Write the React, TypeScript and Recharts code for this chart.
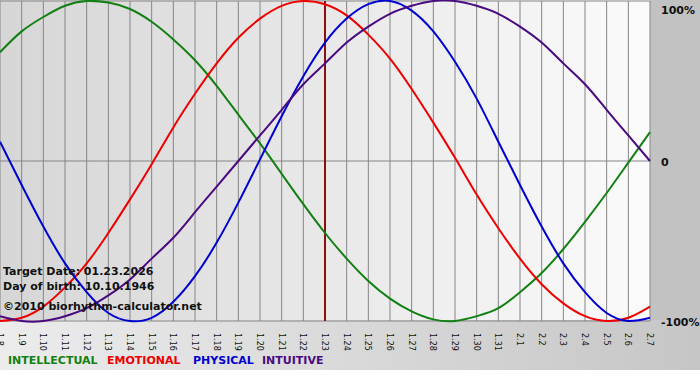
import React from "react";
import {
  LineChart,
  Line,
  XAxis,
  YAxis,
  CartesianGrid,
  ReferenceLine,
} from "recharts";

const dayLabels = [
  "1.8", "1.9", "1.10", "1.11", "1.12", "1.13", "1.14", "1.15", "1.16", "1.17",
  "1.18", "1.19", "1.20", "1.21", "1.22", "1.23", "1.24", "1.25", "1.26", "1.27",
  "1.28", "1.29", "1.30", "1.31", "2.1", "2.2", "2.3", "2.4", "2.5", "2.6", "2.7",
];

const intellectual = [
  68, 81, 90, 97, 100, 99, 95, 87, 76, 63, 47, 29, 11, -8, -27, -45, -61, -75,
  -86, -94, -99, -100, -97, -92, -82, -70, -55, -38, -20, -1, 18,
];
const emotional = [
  -100, -98, -91, -79, -64, -45, -24, -2, 21, 42, 61, 77, 89, 97, 100, 98, 91,
  79, 64, 45, 24, 2, -21, -42, -61, -77, -89, -97, -100, -98, -91,
];
const physical = [
  12, -15, -41, -64, -82, -95, -100, -98, -88, -72, -51, -26, 1, 28, 53, 74, 89,
  98, 100, 94, 81, 62, 39, 12, -15, -41, -64, -82, -95, -100, -98,
];
const intuitive = [
  -97, -100, -100, -97, -92, -84, -74, -61, -48, -32, -16, 0, 16, 32, 48, 61,
  74, 84, 92, 97, 100, 100, 97, 92, 84, 74, 61, 48, 32, 16, 0,
];

const targetDay = 15;
const yTicks = [-100, 0, 100];
const yLabels: Record<number, string> = { 100: "100%", 0: "0", "-100": "-100%" };

const series = [
  { key: "intellectual", name: "INTELLECTUAL", color: "#128012", left: 8 },
  { key: "emotional", name: "EMOTIONAL", color: "#ee0000", left: 107 },
  { key: "physical", name: "PHYSICAL", color: "#0000d0", left: 193 },
  { key: "intuitive", name: "INTUITIVE", color: "#4a0a80", left: 262 },
];

const data = dayLabels.map((label, i) => ({
  d: i,
  label,
  intellectual: intellectual[i],
  emotional: emotional[i],
  physical: physical[i],
  intuitive: intuitive[i],
}));

const DayTick = (props: any) => {
  const { x, y, payload } = props;
  const bx = x - 3;
  const by = y + 4;
  return (
    <text
      x={bx}
      y={by}
      transform={`rotate(90, ${bx}, ${by})`}
      fontFamily="DejaVu Sans"
      fontSize={8}
      fill="#111"
      textAnchor="start"
    >
      {dayLabels[payload.value]}
    </text>
  );
};

const PercentTick = (props: any) => {
  const { x, y, payload } = props;
  return (
    <text
      x={x + 3}
      y={y + 5}
      fontFamily="DejaVu Sans"
      fontWeight="bold"
      fontSize={11}
      fill="#111"
      textAnchor="start"
    >
      {yLabels[payload.value]}
    </text>
  );
};

const infoStyle: React.CSSProperties = {
  position: "absolute",
  left: 3,
  fontFamily: "DejaVu Sans",
  fontWeight: "bold",
  fontSize: 11,
  color: "#111",
  whiteSpace: "nowrap",
  lineHeight: "13px",
};

const App = () => {
  return (
    <div
      style={{
        position: "absolute",
        left: 0,
        top: 0,
        width: 700,
        height: 380,
        background: "#fff",
        overflow: "hidden",
      }}
    >
      <div
        style={{
          position: "absolute",
          left: 0,
          top: 0,
          width: 650,
          height: 320,
          background: "linear-gradient(to right, #d6d6d6, #fbfbfb)",
        }}
      />
      <div
        style={{
          position: "absolute",
          left: 650,
          top: 0,
          width: 50,
          height: 320,
          background: "#c2c2c2",
        }}
      />
      <div
        style={{
          position: "absolute",
          left: 0,
          top: 320,
          width: 700,
          height: 50,
          background: "linear-gradient(to right, #ececec, #c6c6c6)",
        }}
      />
      <div style={{ position: "absolute", left: 0, top: 0 }}>
        <LineChart
          width={700}
          height={380}
          data={data}
          margin={{ top: 1, right: 0, bottom: 0, left: 0 }}
        >
          <CartesianGrid stroke="#858585" strokeWidth={1} />
          <XAxis
            dataKey="d"
            type="number"
            domain={[0, 30]}
            ticks={dayLabels.map((_, i) => i)}
            interval={0}
            tick={<DayTick />}
            tickLine={false}
            axisLine={false}
            height={59}
          />
          <YAxis
            orientation="right"
            domain={[-100, 100]}
            ticks={yTicks}
            tick={<PercentTick />}
            tickLine={false}
            axisLine={false}
            width={50}
          />
          <ReferenceLine x={targetDay} stroke="#8a1010" strokeWidth={2} />
          {series.map((s) => (
            <Line
              key={s.key}
              type="natural"
              dataKey={s.key}
              stroke={s.color}
              strokeWidth={2}
              dot={false}
              isAnimationActive={false}
            />
          ))}
        </LineChart>
      </div>
      <div style={{ ...infoStyle, top: 265 }}>Target Date: 01.23.2026</div>
      <div style={{ ...infoStyle, top: 280 }}>Day of birth: 10.10.1946</div>
      <div style={{ ...infoStyle, top: 300 }}>©2010 biorhythm-calculator.net</div>
      {series.map((s) => (
        <div
          key={s.key}
          style={{
            position: "absolute",
            left: s.left,
            top: 354,
            fontFamily: "DejaVu Sans",
            fontWeight: "bold",
            fontSize: 11,
            color: s.color,
            whiteSpace: "nowrap",
          }}
        >
          {s.name}
        </div>
      ))}
    </div>
  );
};

export default App;
